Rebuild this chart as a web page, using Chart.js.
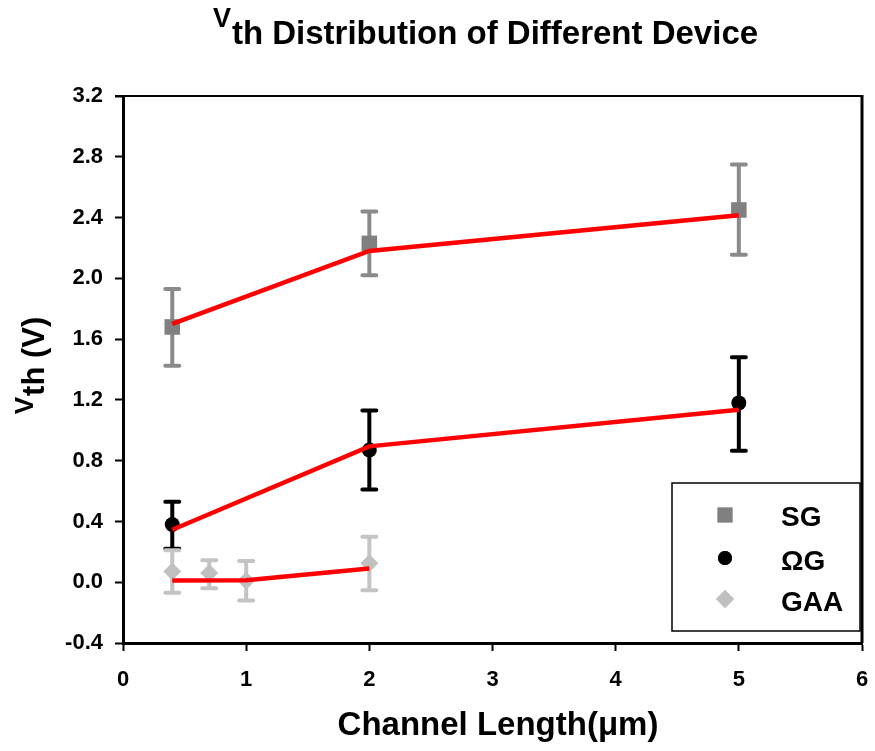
<!DOCTYPE html>
<html>
<head>
<meta charset="utf-8">
<script src="https://cdn.jsdelivr.net/npm/chart.js@4"></script>
<style>
  body { margin: 0; background: #fff; }
  canvas { display: block; }
</style>
</head>
<body>
<canvas id="vthChart" width="875" height="751"></canvas>
<script>
// channel length (um) and Vth (V) per device
const sgLength = [0.4, 2, 5];
const sgVth = [1.68, 2.23, 2.45];
const sgHigh = [1.93, 2.44, 2.75];
const sgLow = [1.425, 2.02, 2.155];
const sgFit = [1.70, 2.18, 2.415];

const ogLength = [0.4, 2, 5];
const ogVth = [0.38, 0.87, 1.18];
const ogHigh = [0.53, 1.13, 1.48];
const ogLow = [0.22, 0.61, 0.865];
const ogFit = [0.345, 0.894, 1.135];

const gaaLength = [0.4, 0.7, 1, 2];
const gaaVth = [0.07, 0.06, 0.01, 0.125];
const gaaHigh = [0.21, 0.145, 0.14, 0.30];
const gaaLow = [-0.07, -0.04, -0.12, -0.053];
const gaaFitLength = [0.4, 1, 2];
const gaaFit = [0.011, 0.013, 0.09];

const seriesNames = ['SG', 'ΩG', 'GAA'];
const yTicks = [-0.4, 0, 0.4, 0.8, 1.2, 1.6, 2.0, 2.4, 2.8, 3.2];
const xTicks = [0, 1, 2, 3, 4, 5, 6];

const FONT = "'Liberation Sans', Arial, sans-serif";

function pts(xs, ys) {
    return xs.map((x, i) => ({ x: x, y: ys[i] }));
}

function fitLine(xs, ys) {
    return {
        type: 'line',
        data: pts(xs, ys),
        borderColor: '#ff0000',
        borderWidth: 4.5,
        pointRadius: 0,
        fill: false,
        order: 0
    };
}

// vertical error bars with caps, drawn under the markers
const errorBars = {
    id: 'errorBars',
    beforeDatasetsDraw(chart) {
        const ctx = chart.ctx;
        const xs = chart.scales.x, ys = chart.scales.y;
        chart.data.datasets.forEach(ds => {
            if (!ds.errHigh) return;
            ctx.save();
            ctx.strokeStyle = ds.errColor;
            ctx.lineWidth = 4;
            ctx.lineCap = 'round';
            ds.data.forEach((p, i) => {
                const x = xs.getPixelForValue(p.x);
                const top = ys.getPixelForValue(ds.errHigh[i]);
                const bot = ys.getPixelForValue(ds.errLow[i]);
                ctx.beginPath();
                ctx.moveTo(x, top); ctx.lineTo(x, bot);
                ctx.moveTo(x - 7, top); ctx.lineTo(x + 7, top);
                ctx.moveTo(x - 7, bot); ctx.lineTo(x + 7, bot);
                ctx.stroke();
            });
            ctx.restore();
        });
    }
};

// frame, legend box and the titles
const decorations = {
    id: 'decorations',
    afterDraw(chart) {
        const ctx = chart.ctx;
        const a = chart.chartArea;
        ctx.save();
        ctx.strokeStyle = '#000';
        ctx.lineWidth = 2;
        ctx.beginPath();
        ctx.moveTo(a.left - 8, a.top); ctx.lineTo(a.right, a.top);
        ctx.stroke();
        ctx.lineWidth = 3;
        ctx.beginPath();
        ctx.moveTo(a.right, a.top - 1); ctx.lineTo(a.right, a.bottom);
        ctx.stroke();

        // legend
        const bx = a.right - 190, by = 483, bw = 188, bh = 148;
        ctx.lineWidth = 1.5;
        ctx.strokeRect(bx, by, bw, bh);
        const markerY = [515, 558, 599];
        const textY = [526, 570, 611];
        const marks = chart.data.datasets.filter(d => d.errHigh);
        marks.forEach((ds, i) => {
            ctx.fillStyle = ds.backgroundColor;
            Chart.helpers.drawPoint(ctx, {
                pointStyle: ds.pointStyle,
                radius: ds.legendRadius,
                rotation: 0,
                borderWidth: 0
            }, 725, markerY[i]);
            ctx.fill();
            ctx.fillStyle = '#000';
            ctx.font = 'bold 28px ' + FONT;
            ctx.textBaseline = 'alphabetic';
            ctx.textAlign = 'left';
            ctx.fillText(ds.label, 781, textY[i]);
        });

        // chart title: small raised V followed by "th ..."
        ctx.fillStyle = '#000';
        ctx.textAlign = 'left';
        ctx.font = 'bold 27px ' + FONT;
        const wV = ctx.measureText('V').width;
        ctx.font = 'bold 33px ' + FONT;
        const rest = 'th Distribution of Different Device';
        const wR = ctx.measureText(rest).width;
        let x0 = 485 - (wV + wR) / 2;
        ctx.font = 'bold 27px ' + FONT;
        ctx.fillText('V', x0, 27);
        ctx.font = 'bold 33px ' + FONT;
        ctx.fillText(rest, x0 + wV + 1, 44);

        // y axis title
        ctx.save();
        ctx.translate(0, 366);
        ctx.rotate(-Math.PI / 2);
        ctx.font = 'bold 26px ' + FONT;
        const yV = ctx.measureText('V').width;
        ctx.font = 'bold 31px ' + FONT;
        const yR = ctx.measureText('th (V)').width;
        let s = -(yV + yR) / 2;
        ctx.font = 'bold 26px ' + FONT;
        ctx.fillText('V', s, 33);
        ctx.font = 'bold 31px ' + FONT;
        ctx.fillText('th (V)', s + yV + 1, 44);
        ctx.restore();

        // x axis title
        ctx.font = 'bold 33px ' + FONT;
        ctx.textAlign = 'center';
        ctx.fillText('Channel Length(μm)', 498, 735);
        ctx.restore();
    }
};

const ctx = document.getElementById('vthChart').getContext('2d');
const vthChart = new Chart(ctx, {
    type: 'scatter',
    data: {
        datasets: [
            fitLine(sgLength, sgFit),
            fitLine(ogLength, ogFit),
            fitLine(gaaFitLength, gaaFit),
            {
                label: seriesNames[0],
                data: pts(sgLength, sgVth),
                errHigh: sgHigh, errLow: sgLow, errColor: '#8a8a8a',
                pointStyle: 'rect', pointRadius: 11, legendRadius: 10.5,
                backgroundColor: '#808080', borderWidth: 0, order: 1
            },
            {
                label: seriesNames[1],
                data: pts(ogLength, ogVth),
                errHigh: ogHigh, errLow: ogLow, errColor: '#000000',
                pointStyle: 'circle', pointRadius: 7.5, legendRadius: 7,
                backgroundColor: '#000000', borderWidth: 0, order: 1
            },
            {
                label: seriesNames[2],
                data: pts(gaaLength, gaaVth),
                errHigh: gaaHigh, errLow: gaaLow, errColor: '#c4c4c4',
                pointStyle: 'rectRot', pointRadius: 9, legendRadius: 9,
                backgroundColor: '#c0c0c0', borderWidth: 0, order: 1
            }
        ]
    },
    options: {
        responsive: false,
        animation: false,
        layout: { padding: { left: 0, top: 96, right: 13, bottom: 0 } },
        plugins: {
            legend: { display: false },
            tooltip: { enabled: false }
        },
        scales: {
            x: {
                type: 'linear',
                min: 0, max: 6,
                afterFit: s => { s.height = 108; s.paddingLeft = 0; s.paddingRight = 0; },
                afterBuildTicks: s => { s.ticks = xTicks.map(v => ({ value: v })); },
                ticks: {
                    color: '#000',
                    padding: 16,
                    font: { family: FONT, size: 22, weight: 'bold' },
                    callback: v => String(v)
                },
                grid: {
                    drawOnChartArea: false,
                    tickLength: 8,
                    tickWidth: 2,
                    tickColor: '#000'
                },
                border: { display: true, color: '#000', width: 3 }
            },
            y: {
                min: -0.4, max: 3.2,
                afterFit: s => { s.width = 123; },
                afterBuildTicks: s => { s.ticks = yTicks.map(v => ({ value: v })); },
                ticks: {
                    color: '#000',
                    padding: 12,
                    font: { family: FONT, size: 22, weight: 'bold' },
                    callback: v => v.toFixed(1)
                },
                grid: {
                    drawOnChartArea: false,
                    tickLength: 8,
                    tickWidth: 2,
                    tickColor: '#000'
                },
                border: { display: true, color: '#000', width: 3 }
            }
        }
    },
    plugins: [errorBars, decorations]
});
</script>
</body>
</html>
